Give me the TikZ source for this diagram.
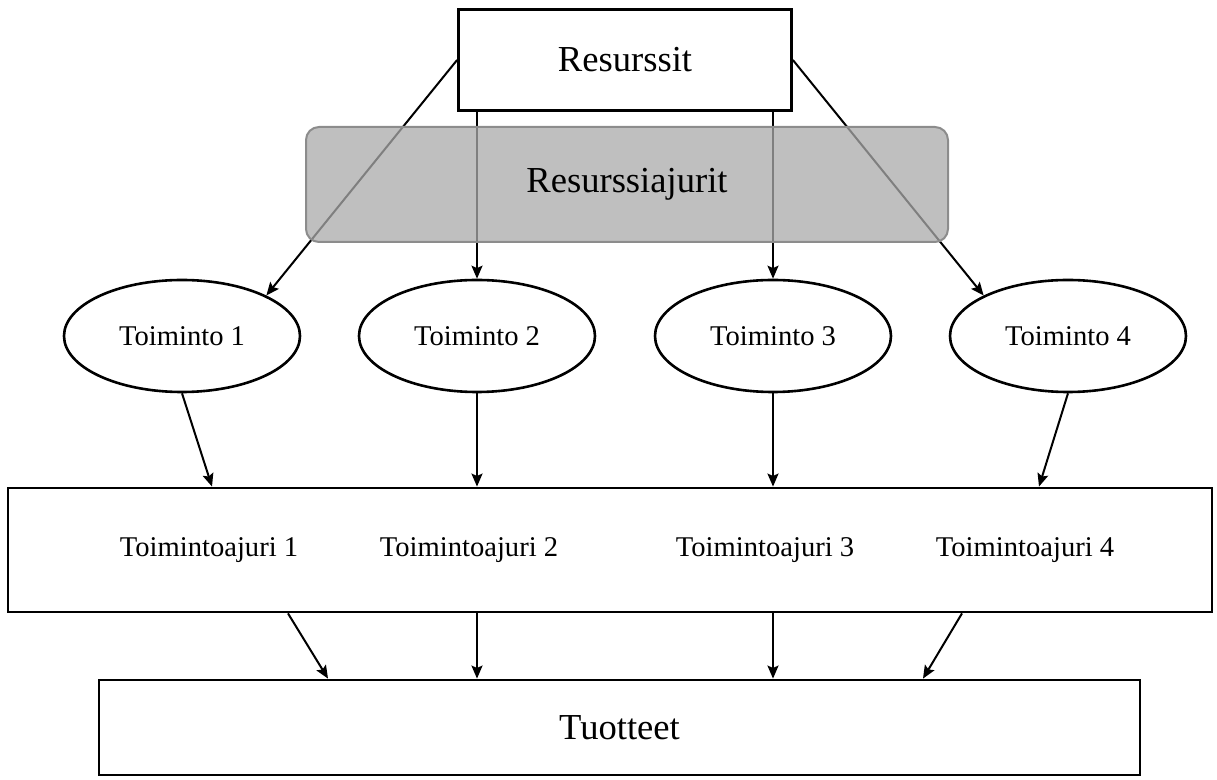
\documentclass[tikz,border=0pt]{standalone}
\usepackage{fontspec}
\setmainfont{Liberation Serif}
\usetikzlibrary{arrows.meta,shapes.geometric}
\definecolor{drvfill}{HTML}{AAAAAA}
\definecolor{drvline}{HTML}{8C8C8C}

\begin{document}
\begin{tikzpicture}[
  x=.5pt,y=-.5pt,
  big/.style={font=\fontsize{18.3}{22}\selectfont},
  small/.style={font=\fontsize{14.3}{17}\selectfont},
  box/.style={draw,rectangle,line width=1.4pt,inner sep=0pt,big},
  task/.style={draw,ellipse,line width=1.3pt,inner sep=0pt,small,
    minimum width=118pt,minimum height=56pt},
  driver/.style={draw=drvline,fill=drvfill,fill opacity=.75,text opacity=1,
    rounded corners=6.5pt,line width=1pt,inner sep=0pt,big},
  flow/.style={-{Stealth[length=6.5pt,width=5.5pt,inset=1.2pt]},line width=1pt}
]
\useasboundingbox (0,0) rectangle (1217,780);

\node[box,minimum width=166.5pt,minimum height=50.5pt] (res) at (625,60) {Resurssit};

\node[task] (t1) at (182,336) {Toiminto 1};
\node[task] (t2) at (477,336) {Toiminto 2};
\node[task] (t3) at (773,336) {Toiminto 3};
\node[task] (t4) at (1068,336) {Toiminto 4};

\node[box,minimum width=602pt,minimum height=62pt] (ajr) at (610,550) {};
\node[small] (a1) at (209,550) {Toimintoajuri 1};
\node[small] (a2) at (469,550) {Toimintoajuri 2};
\node[small] (a3) at (765,550) {Toimintoajuri 3};
\node[small] (a4) at (1025,550) {Toimintoajuri 4};

\node[box,minimum width=520.5pt,minimum height=47.5pt] (tuo) at (619.5,727.5) {Tuotteet};

% resources to activities, drawn before the driver band so it shades them
\draw[flow] (res.west) -- (t1.north east);
\draw[flow] (res.south -| t2.north) -- (t2.north);
\draw[flow] (res.south -| t3.north) -- (t3.north);
\draw[flow] (res.east) -- (t4.north west);

\node[driver,minimum width=321pt,minimum height=57.5pt] (drv) at (627,184.5) {Resurssiajurit};

\draw[flow] (t1.south) -- ([xshift=15pt]t1.south |- ajr.north);
\draw[flow] (t2.south) -- (t2.south |- ajr.north);
\draw[flow] (t3.south) -- (t3.south |- ajr.north);
\draw[flow] (t4.south) -- ([xshift=-14.5pt]t4.south |- ajr.north);

\draw[flow] ([xshift=53pt]t1.south |- ajr.south) -- ([xshift=73pt]t1.south |- tuo.north);
\draw[flow] (t2.south |- ajr.south) -- (t2.south |- tuo.north);
\draw[flow] (t3.south |- ajr.south) -- (t3.south |- tuo.north);
\draw[flow] ([xshift=-53pt]t4.south |- ajr.south) -- ([xshift=-72.5pt]t4.south |- tuo.north);

\end{tikzpicture}
\end{document}
